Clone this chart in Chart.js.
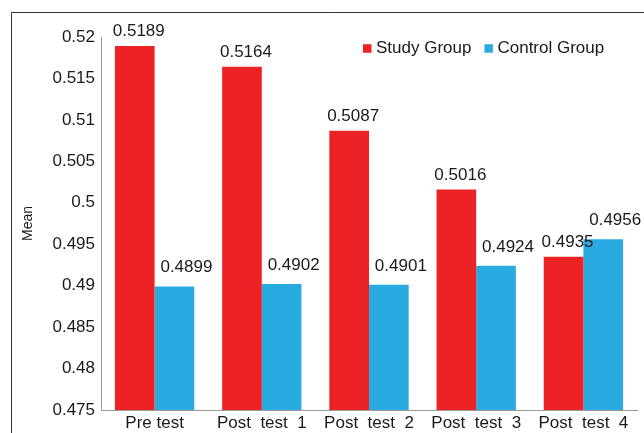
<!DOCTYPE html>
<html>
<head>
<meta charset="utf-8">
<script src="https://cdn.jsdelivr.net/npm/chart.js@4/dist/chart.umd.min.js"></script>
<style>
  html, body { margin: 0; padding: 0; background: #fff; }
  #wrap { width: 644px; height: 433px; }
</style>
</head>
<body>
<div id="wrap"><canvas id="c" width="644" height="433"></canvas></div>
<script>
// Test occasions on the x axis
const categories = ['Pre test', 'Post  test  1', 'Post  test  2', 'Post  test  3', 'Post  test  4'];
// Mean scores per group
const studyGroup = [0.5189, 0.5164, 0.5087, 0.5016, 0.4935];
const controlGroup = [0.4899, 0.4902, 0.4901, 0.4924, 0.4956];
// Value axis range and step
const yMin = 0.475;
const yMax = 0.52;
const yStep = 0.005;

const RED = '#ED2224';
const BLUE = '#29ABE2';
const FONT = 'Liberation Sans, Arial, Helvetica, sans-serif';

// Outer frame around the figure
const framePlugin = {
  id: 'frame',
  afterDraw(chart) {
    const ctx = chart.ctx;
    ctx.save();
    ctx.strokeStyle = '#333333';
    ctx.lineWidth = 1;
    ctx.beginPath();
    ctx.moveTo(11.5, 440);
    ctx.lineTo(11.5, 12.5);
    ctx.lineTo(650, 12.5);
    ctx.stroke();
    ctx.restore();
  }
};

// Value labels above each bar, positioned from the bar elements
const valueLabels = {
  id: 'valueLabels',
  afterDatasetsDraw(chart) {
    const ctx = chart.ctx;
    ctx.save();
    ctx.font = '17px ' + FONT;
    ctx.fillStyle = '#1a1a1a';
    ctx.textAlign = 'center';
    ctx.textBaseline = 'alphabetic';
    const shifts = [{ dx: 4, gap: 10 }, { dx: 12, gap: 14 }];
    chart.data.datasets.forEach((ds, di) => {
      const meta = chart.getDatasetMeta(di);
      meta.data.forEach((bar, i) => {
        const v = ds.data[i];
        ctx.fillText(v.toFixed(4), bar.x + shifts[di].dx, bar.y - shifts[di].gap);
      });
    });
    ctx.restore();
  }
};

// Legend row in the top right of the plot
const legendRow = {
  id: 'legendRow',
  afterDraw(chart) {
    const ctx = chart.ctx;
    ctx.save();
    ctx.font = '17px ' + FONT;
    ctx.fillStyle = '#1a1a1a';
    ctx.textBaseline = 'middle';
    ctx.textAlign = 'left';
    let x = 363;
    const yMid = 48.5;
    const box = 8.5;
    chart.data.datasets.forEach((ds) => {
      ctx.fillStyle = ds.backgroundColor;
      ctx.fillRect(x, yMid - box / 2, box, box);
      x += box + 4.5;
      ctx.fillStyle = '#1a1a1a';
      ctx.fillText(ds.label, x, yMid);
      x += ctx.measureText(ds.label).width + 13;
    });
    ctx.restore();
  }
};

new Chart(document.getElementById('c'), {
  type: 'bar',
  data: {
    labels: categories,
    datasets: [
      { label: 'Study Group', data: studyGroup, backgroundColor: RED, borderWidth: 0 },
      { label: 'Control Group', data: controlGroup, backgroundColor: BLUE, borderWidth: 0 }
    ]
  },
  options: {
    responsive: false,
    animation: false,
    events: [],
    layout: { padding: { top: 37, right: 7, left: 0, bottom: 0 } },
    datasets: {
      bar: { categoryPercentage: 0.74, barPercentage: 1.0 }
    },
    plugins: {
      legend: { display: false },
      tooltip: { enabled: false },
      title: { display: false }
    },
    scales: {
      x: {
        grid: { display: false, drawTicks: false },
        border: { display: true, color: '#9a9a9a', width: 1 },
        ticks: {
          color: '#1a1a1a',
          font: { family: FONT, size: 17 },
          padding: 3,
          maxRotation: 0,
          autoSkip: false
        },
        afterFit(scale) { scale.height = 23; }
      },
      y: {
        min: yMin,
        max: yMax,
        grid: { display: false, drawTicks: false },
        border: { display: true, color: '#9a9a9a', width: 1 },
        ticks: {
          stepSize: yStep,
          color: '#1a1a1a',
          font: { family: FONT, size: 17 },
          padding: 6,
          callback: (v) => String(Number(v.toFixed(3)))
        },
        title: {
          display: true,
          text: 'Mean',
          color: '#1a1a1a',
          font: { family: FONT, size: 14 },
          padding: { top: 20, bottom: 0 }
        },
        afterFit(scale) { scale.width = 101; }
      }
    }
  },
  plugins: [framePlugin, valueLabels, legendRow]
});
</script>
</body>
</html>
